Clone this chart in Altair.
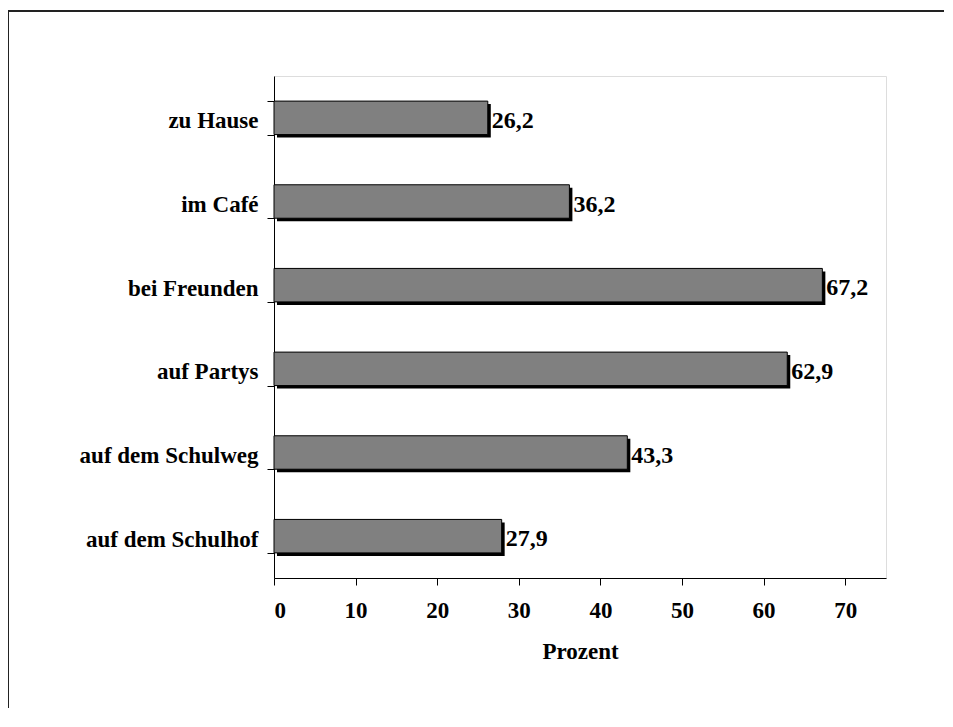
import altair as alt
import pandas as pd

categories = ["zu Hause", "im Café", "bei Freunden", "auf Partys", "auf dem Schulweg", "auf dem Schulhof"]
values = [26.2, 36.2, 67.2, 62.9, 43.3, 27.9]
x_ticks = [0, 10, 20, 30, 40, 50, 60, 70]

df = pd.DataFrame({
    "Ort": categories,
    "Prozent": values,
    "Label": [f"{v:.1f}".replace(".", ",") for v in values],
})

FONT = "Liberation Serif"
FS = 23
W, H = 612, 502

y_enc = alt.Y("Ort:N", sort=categories,
              scale=alt.Scale(paddingInner=0.6, paddingOuter=0.3),
              axis=alt.Axis(title=None, tickBand="extent", tickSize=7, tickColor="black",
                            domainColor="black", labelFont=FONT, labelFontSize=FS,
                            labelFontWeight="bold", labelColor="black", labelPadding=9,
                            labelOffset=3, grid=False))
x_enc = alt.X("Prozent:Q",
              scale=alt.Scale(domain=[0, 75], nice=False),
              axis=alt.Axis(title="Prozent", values=x_ticks, tickSize=7, tickColor="black",
                            domainColor="black", labelFont=FONT, labelFontSize=FS,
                            labelFontWeight="bold", labelColor="black", labelPadding=14,
                            titleFont=FONT, titleFontSize=FS, titleFontWeight="bold",
                            titleColor="black", titlePadding=18, grid=False))

base = alt.Chart(df)

shadow = base.mark_bar(color="black", xOffset=3, yOffset=3).encode(x=x_enc, y=y_enc)
bars = base.mark_bar(color="#808080", stroke="black", strokeWidth=1).encode(x=x_enc, y=y_enc)
labels = base.mark_text(align="left", baseline="middle", dx=4, dy=3, font=FONT,
                        fontSize=FS + 1, fontWeight="bold", color="black").encode(
    x=x_enc, y=y_enc, text="Label:N")

frame = alt.Chart(pd.DataFrame({"a": [0]})).mark_rect(
    fill=None, stroke="#222", strokeWidth=2, clip=False).encode(
    x=alt.value(-266), x2=alt.value(720), y=alt.value(-65), y2=alt.value(700))

chart = alt.layer(frame, shadow, bars, labels).properties(
    width=W, height=H,
    autosize=alt.AutoSizeParams(type="none"),
    padding={"left": 266, "top": 68, "right": 58, "bottom": 130},
).configure_view(stroke="#333", strokeWidth=1).configure(background="white")

chart.save("out.html", embed_options={"renderer": "svg", "actions": False})
